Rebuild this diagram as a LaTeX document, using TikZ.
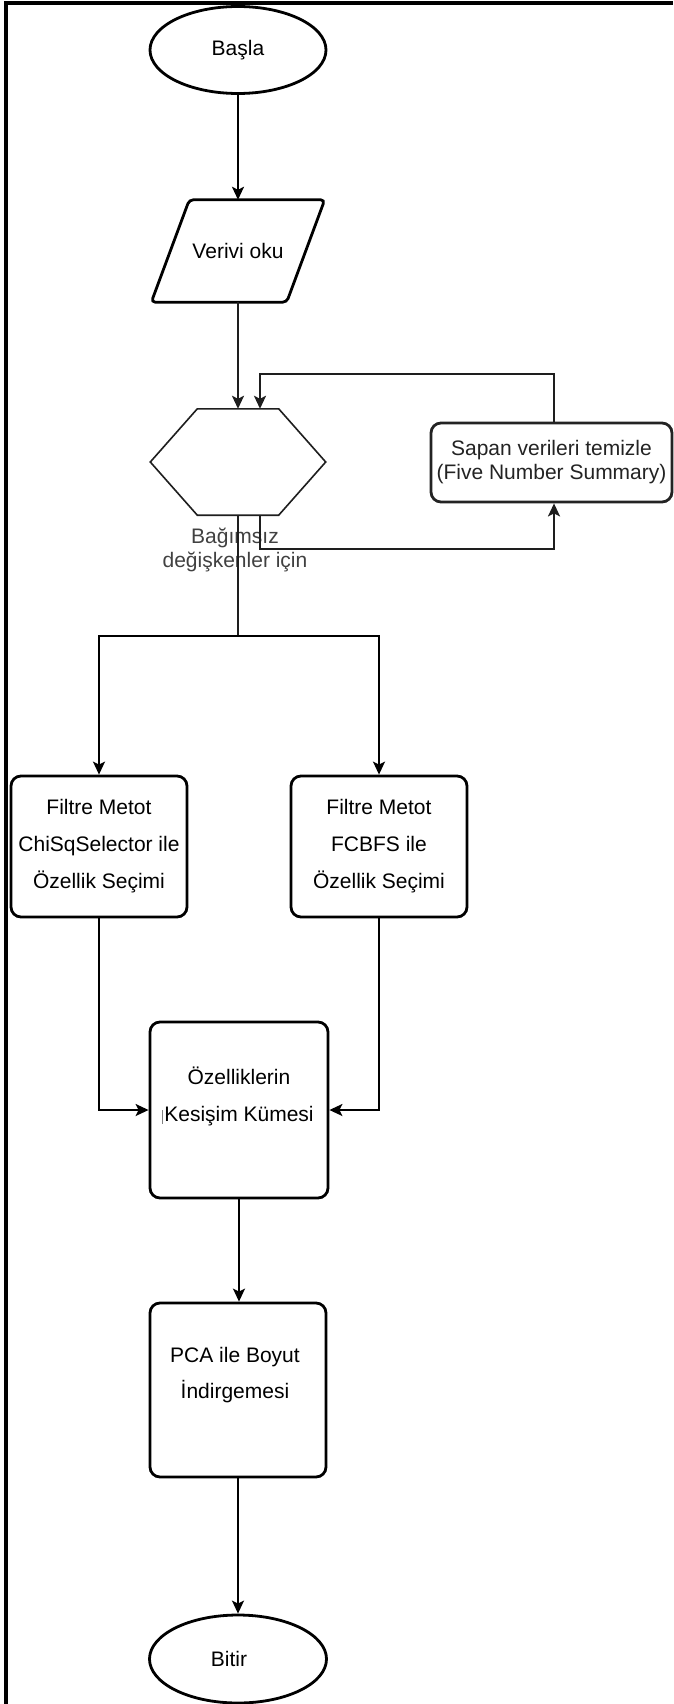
\documentclass[tikz,border=0pt]{standalone}
\usepackage{fontspec}
\setmainfont{Liberation Sans}
\usetikzlibrary{arrows.meta,shapes.geometric,calc}
\definecolor{dk}{RGB}{35,35,35}
\definecolor{gy}{RGB}{30,30,30}
\definecolor{lbl}{RGB}{65,65,65}
\begin{document}
\begin{tikzpicture}[x=1pt,y=-1pt,
 txt/.style={font=\fontsize{21pt}{37pt}\selectfont, align=center, inner sep=0pt},
 procbox/.style={draw=black, line width=2.8pt, rounded corners=10pt, inner sep=0pt, align=center, font=\fontsize{21pt}{37pt}\selectfont},
 term/.style={ellipse, draw=black, line width=2.8pt, inner sep=0pt, font=\fontsize{21pt}{25pt}\selectfont},
 arr/.style={-{Stealth[length=13pt,width=12pt,inset=3pt]}, line width=2pt, draw=black},
 ln/.style={line width=2pt, draw=black},
 garr/.style={arr, draw=gy},
]
\useasboundingbox (0,0) rectangle (673,1704);
\fill[white] (0,0) rectangle (673,1704);
\draw[line width=4pt, line join=miter] (6,1704) -- (6,3) -- (673,3);

% nodes
\node[term, minimum width=176pt, minimum height=87pt] (start) at (238,50) {Başla};

\node[txt, minimum width=173pt, minimum height=102pt] (read) at (238,251) {Verivi oku};
\draw[line width=2.8pt, rounded corners=4pt] ([xshift=38pt]read.north west) -- (read.north east) -- ([xshift=-38pt]read.south east) -- (read.south west) -- cycle;

\node[minimum width=175pt, minimum height=106pt, inner sep=0pt] (hex) at (238,462) {};
\draw[gy, line width=1.6pt] (hex.west) -- ([xshift=47pt]hex.north west) -- ([xshift=-47pt]hex.north east) -- (hex.east) -- ([xshift=-47pt]hex.south east) -- ([xshift=47pt]hex.south west) -- cycle;

\node[procbox, draw=dk, text=dk, font=\fontsize{21pt}{24pt}\selectfont, minimum width=241pt, minimum height=79pt] (clean) at (551.5,462.5) {Sapan verileri temizle\\(Five Number Summary)};

\node[txt, text=lbl, font=\fontsize{21pt}{24pt}\selectfont] (lab) at (235,550) {Bağımsız\\değişkenler için};

\node[procbox, minimum width=176pt, minimum height=141pt] (f1) at (99,846.5) {Filtre Metot\\ChiSqSelector ile\\Özellik Seçimi};
\node[procbox, minimum width=176pt, minimum height=141pt] (f2) at (379,846.5) {Filtre Metot\\FCBFS ile\\Özellik Seçimi};

\node[procbox, minimum width=178pt, minimum height=176pt] (inter) at (239,1110) {};
\node[txt] (interT) at ([yshift=13.5pt]inter.center) {Özelliklerin\\Kesişim Kümesi};
\draw[gray, line width=0.6pt] (162,1110) -- (162,1124);

\node[procbox, minimum width=176pt, minimum height=174pt] (pca) at (238,1390) {};
\node[txt, font=\fontsize{21pt}{36pt}\selectfont] (pcaT) at (235,1375) {PCA ile Boyut\\İndirgemesi};

\node[term, minimum width=177pt, minimum height=88pt, label={[font=\fontsize{21pt}{25pt}\selectfont, xshift=-9pt]center:Bitir}] (end) at (238,1659) {};

% connectors
\draw[arr] (start.south) -- (start.south |- read.north);
\draw[garr] (read.south) -- (read.south |- hex.north);
\coordinate (lt) at (260,374);
\draw[garr] ([xshift=2.5pt]clean.north) |- (lt) -- (lt |- hex.north);
\coordinate (lb) at (260,549);
\draw[garr] (lb |- hex.south) -- (lb) -| ([xshift=2.5pt]clean.south);
\coordinate (split) at (238,636);
\draw[ln, draw=gy] (hex.south) -- (split);
\draw[arr] (split) -| (f1.north);
\draw[arr] (split) -| (f2.north);
\draw[arr] (f1.south) |- (inter.west);
\draw[arr] (f2.south) |- (inter.east);
\draw[arr] (inter.south) -- (inter.south |- pca.north);
\draw[arr] (pca.south) -- (pca.south |- end.north);
\end{tikzpicture}
\end{document}
